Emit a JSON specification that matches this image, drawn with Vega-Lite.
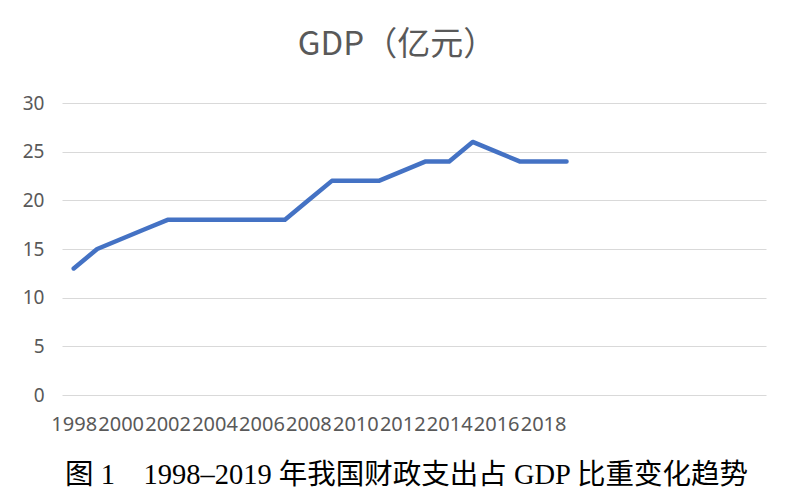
{
  "$schema": "https://vega.github.io/schema/vega-lite/v6.json",
  "width": 704,
  "height": 292,
  "autosize": "none",
  "padding": {"left": 62, "top": 103, "right": 34, "bottom": 96},
  "background": "white",
  "title": {
    "text": "GDP（亿元）",
    "font": "Noto Sans CJK SC",
    "fontSize": 33,
    "fontWeight": "normal",
    "color": "#595959",
    "anchor": "middle",
    "frame": "group",
    "dx": -17,
    "offset": 32
  },
  "data": {
    "values": [
      {"year": 1998, "value": 13},
      {"year": 1999, "value": 15},
      {"year": 2000, "value": 16},
      {"year": 2001, "value": 17},
      {"year": 2002, "value": 18},
      {"year": 2003, "value": 18},
      {"year": 2004, "value": 18},
      {"year": 2005, "value": 18},
      {"year": 2006, "value": 18},
      {"year": 2007, "value": 18},
      {"year": 2008, "value": 20},
      {"year": 2009, "value": 22},
      {"year": 2010, "value": 22},
      {"year": 2011, "value": 22},
      {"year": 2012, "value": 23},
      {"year": 2013, "value": 24},
      {"year": 2014, "value": 24},
      {"year": 2015, "value": 26},
      {"year": 2016, "value": 25},
      {"year": 2017, "value": 24},
      {"year": 2018, "value": 24},
      {"year": 2019, "value": 24}
    ]
  },
  "mark": {"type": "line", "color": "#4472C4", "strokeWidth": 4.5, "strokeJoin": "round", "strokeCap": "round"},
  "encoding": {
    "x": {
      "field": "year",
      "type": "quantitative",
      "scale": {"domain": [1997.5, 2027.5], "nice": false, "zero": false},
      "axis": {
        "values": [1998, 2000, 2002, 2004, 2006, 2008, 2010, 2012, 2014, 2016, 2018],
        "format": "d",
        "grid": false,
        "domain": false,
        "ticks": false,
        "labelFont": "Noto Sans",
        "labelFontSize": 20,
        "labelColor": "#595959",
        "labelPadding": 19,
        "labelOverlap": false,
        "labelFlush": false,
        "title": "图 1　1998–2019 年我国财政支出占 GDP 比重变化趋势",
        "titleFont": "Liberation Serif, Noto Sans CJK SC",
        "titleFontSize": 28.5,
        "titleFontWeight": "normal",
        "titleColor": "#000000",
        "titleX": 344,
        "titleY": 88,
        "titleAlign": "center",
        "titleBaseline": "alphabetic"
      }
    },
    "y": {
      "field": "value",
      "type": "quantitative",
      "scale": {"domain": [0, 30], "nice": false},
      "axis": {
        "values": [0, 5, 10, 15, 20, 25, 30],
        "title": null,
        "domain": false,
        "ticks": false,
        "gridColor": "#d9d9d9",
        "gridWidth": 1.2,
        "labelFont": "Noto Sans",
        "labelFontSize": 19,
        "labelColor": "#595959",
        "labelPadding": 18
      }
    }
  },
  "config": {"view": {"stroke": null}}
}
